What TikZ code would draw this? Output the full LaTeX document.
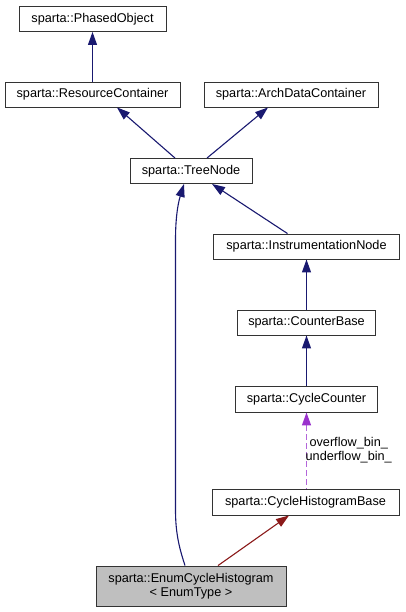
\documentclass[tikz,border=0pt]{standalone}
\usepackage{fontspec}
\setmainfont{Liberation Sans}
\usetikzlibrary{arrows.meta}
\definecolor{edgeblue}{HTML}{191970}
\definecolor{edgered}{HTML}{8B1A1A}
\definecolor{edgepurple}{HTML}{9A32CD}
\definecolor{curfill}{HTML}{BFBFBF}
\begin{document}
\begin{tikzpicture}[x=1pt,y=-1pt,
  cls/.style={draw=black!80,line width=0.9pt,inner sep=0pt,minimum height=25pt,
    font=\fontsize{12.7}{14.5}\selectfont,align=center},
  inh/.style={edgeblue,line width=1.1pt,{Triangle[length=13pt,width=9pt]}-},
  inhred/.style={edgered,line width=1.1pt,{Triangle[length=13pt,width=9pt]}-},
  uses/.style={edgepurple!75,line width=1.3pt,dash pattern=on 6pt off 3pt,
    {Triangle[length=13pt,width=9pt,color=edgepurple]}-}]
\useasboundingbox (0,0) rectangle (405,612);
% class boxes
\node[cls,minimum width=147pt] (phased) at (92.5,19) {sparta::PhasedObject};
\node[cls,minimum width=175pt] (resource) at (92.5,94.5) {sparta::ResourceContainer};
\node[cls,minimum width=174pt] (arch) at (291,94.5) {sparta::ArchDataContainer};
\node[cls,minimum width=122pt] (tree) at (191,171) {sparta::TreeNode};
\node[cls,minimum width=186pt] (instr) at (306.5,246.5) {sparta::InstrumentationNode};
\node[cls,minimum width=138pt] (cbase) at (306.5,322.5) {sparta::CounterBase};
\node[cls,minimum width=142pt,minimum height=26pt] (ccounter) at (306.5,399) {sparta::CycleCounter};
\node[cls,minimum width=187pt,minimum height=26pt] (hbase) at (305.5,502) {sparta::CycleHistogramBase};
\node[cls,fill=curfill,minimum width=190pt,minimum height=40pt] (enum) at (191,586)
  {sparta::EnumCycleHistogram\\ < EnumType >};
% inheritance
\draw[inh] (phased.south) -- (resource.north);
\draw[inh] ([xshift=24.5pt]resource.south) -- ([xshift=-16pt]tree.north);
\draw[inh] ([xshift=-23pt]arch.south) -- ([xshift=16pt]tree.north);
\draw[inh] ([xshift=21pt]tree.south) -- ([xshift=-19pt]instr.north);
\draw[inh] (instr.south) -- (cbase.north);
\draw[inh] (cbase.south) -- (ccounter.north);
\draw[inh] ([xshift=-7pt]tree.south) .. controls (177.5,205) and (175.5,220) .. (175.5,240)
  -- (175.5,510) .. controls (175.5,535) and (180,550) .. ([xshift=-6pt]enum.north);
\draw[inhred] ([xshift=-16.5pt]hbase.south) -- ([xshift=27pt]enum.north);
% usage
\draw[uses] (ccounter.south) -- ([xshift=1pt]hbase.north)
  node[midway,anchor=west,inner sep=0pt,xshift=-1.5pt,align=center,
    font=\fontsize{12.7}{14}\selectfont,text=black] {overflow\_bin\_\\underflow\_bin\_};
\end{tikzpicture}
\end{document}
